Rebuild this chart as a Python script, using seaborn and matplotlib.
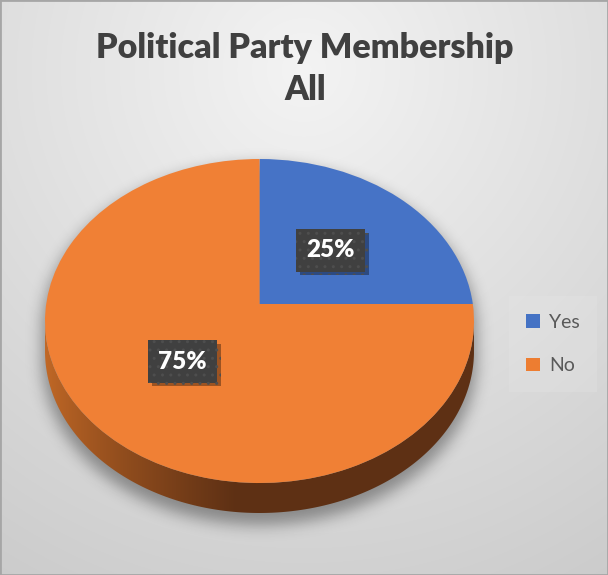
import numpy as np
import matplotlib
matplotlib.use("Agg")
import matplotlib.pyplot as plt
import matplotlib.transforms as mtransforms
import matplotlib.patheffects as pe
from matplotlib.path import Path
from matplotlib.patches import PathPatch, Rectangle
import seaborn as sns

# ---- data -------------------------------------------------------------
categories = ["Yes", "No"]
shares = [25, 75]
slice_colors = ["#4472C4", "#ED7D31"]
title_lines = ["Political Party Membership", "All"]

# ---- style ------------------------------------------------------------
sns.set_theme(style="white")
plt.rcParams["font.family"] = ["Lato", "DejaVu Sans"]

W, H, DPI = 608, 575, 100
fig = plt.figure(figsize=(W / DPI, H / DPI), dpi=DPI)
ax = fig.add_axes([0, 0, 1, 1])

# geometry of the tilted disc, in pixel units of the canvas
CX, CY, RX, RY = 259.5, 321.0, 214.5, 162.0
TILT = 0.105
DEPTH = 30.0


class TiltedDisc(mtransforms.Transform):
    """Perspective view of the unit disc: a projective map that keeps the
    rim on an ellipse while the centre slides towards the far edge."""
    input_dims = output_dims = 2
    is_separable = False

    def __init__(self, cx, cy, rx, ry, v):
        super().__init__()
        self.cx, self.cy, self.rx, self.ry, self.v = cx, cy, rx, ry, v
        self.s = np.sqrt(1 - v * v)

    def transform_non_affine(self, values):
        values = np.asarray(values, dtype=float)
        x, y = values[..., 0], values[..., 1]
        d = 1.0 + self.v * y
        xp = x * self.s / d
        yp = (y + self.v) / d
        return np.stack([self.cx + self.rx * xp, self.cy - self.ry * yp], axis=-1)


tilt = TiltedDisc(CX, CY, RX, RY, TILT)

# ---- background: soft radial grey ---------------------------------------
yy, xx = np.mgrid[0:H, 0:W] + 0.5
rad = np.hypot(xx - 304, (yy - 70) * 1.0) / 600.0
shade = 0.955 - 0.16 * np.clip(rad, 0, 1.1)
bg = np.dstack([shade, shade, shade])
ax.imshow(bg, extent=[0, W, H, 0], zorder=0, interpolation="bilinear")


def blur(a, sigma):
    r = int(3 * sigma)
    k = np.exp(-0.5 * (np.arange(-r, r + 1) / sigma) ** 2)
    k /= k.sum()
    a = np.apply_along_axis(lambda m: np.convolve(m, k, mode="same"), 0, a)
    a = np.apply_along_axis(lambda m: np.convolve(m, k, mode="same"), 1, a)
    return a


# ---- drop shadow under the solid disc -------------------------------------
dy = yy - CY - 9
t = np.clip(dy, 0, DEPTH)
solid = (((xx - CX) / (RX + 3)) ** 2 + ((dy - t) / (RY + 3)) ** 2) <= 1.0
soft = blur(solid.astype(float), 7.5)
shadow = np.zeros((H, W, 4))
shadow[..., 3] = 0.36 * soft
ax.imshow(shadow, extent=[0, W, H, 0], zorder=1, interpolation="bilinear")

# ---- side wall of the disc -------------------------------------------------
phi = np.linspace(0, np.pi, 200)
rim_x = CX + RX * np.cos(phi)
rim_y = CY + RY * np.sin(phi)
wall = np.concatenate([
    np.column_stack([rim_x, rim_y]),
    np.column_stack([rim_x[::-1], rim_y[::-1] + DEPTH]),
])
wall_patch = PathPatch(Path(wall, closed=True), facecolor="none", edgecolor="none")
ax.add_patch(wall_patch)

gx = np.linspace(CX - RX, CX + RX, 400)
frac = np.clip((gx - (CX - RX)) / 190.0, 0, 1) ** 0.8
light = np.array([0.76, 0.41, 0.15])
dark = np.array([0.37, 0.19, 0.08])
ramp = light[None, :] * (1 - frac[:, None]) + dark[None, :] * frac[:, None]
ramp_img = np.repeat(ramp[None, :, :], 2, axis=0)
side = ax.imshow(ramp_img, extent=[CX - RX, CX + RX, CY + RY + DEPTH + 2, CY - 2],
                 zorder=2, interpolation="bilinear")
side.set_clip_path(wall_patch)

# ---- top face: the pie itself --------------------------------------------------
wedges, texts, autotexts = ax.pie(
    shares,
    colors=["#4673C6", "#F08035"],
    startangle=90,
    counterclock=False,
    autopct="%1.0f%%",
    pctdistance=0.49,
    wedgeprops=dict(linewidth=0),
    textprops=dict(color="white", fontsize=17.5, fontweight="heavy"),
)
for w in wedges:
    w.set_transform(tilt + ax.transData)
    w.set_zorder(3)
for lbl in autotexts:
    lbl.set_position(tuple(tilt.transform(np.array(lbl.get_position()))))
    lbl.set_zorder(6)
    lbl.set_bbox(dict(boxstyle="square,pad=0.42", facecolor="#404040",
                      edgecolor="#4e4e4e", linewidth=0, hatch=".."))
    lbl.get_bbox_patch().set_path_effects(
        [pe.withSimplePatchShadow(offset=(2.5, -2.5), shadow_rgbFace="black", alpha=0.35)]
    )

ax.set_xlim(0, W)
ax.set_ylim(H, 0)
ax.set_aspect("auto")
ax.axis("off")

# ---- title --------------------------------------------------------------------------
ax.text(W / 2 + 1, 69, "\n".join(title_lines), ha="center", va="center",
        fontsize=24.5, fontweight="heavy", color="#404040", linespacing=1.42, zorder=6)

# ---- legend ---------------------------------------------------------------------------
leg = ax.legend(
    [Rectangle((0, 0), 1, 1, facecolor=c, edgecolor="none") for c in slice_colors],
    categories,
    loc="center",
    bbox_to_anchor=(553 / W, 1 - 344 / H),
    bbox_transform=fig.transFigure,
    frameon=True, fancybox=False,
    facecolor="#e6e6e6", edgecolor="none", framealpha=0.3,
    fontsize=14, labelcolor="#595959",
    handlelength=0.7, handleheight=0.7, handletextpad=0.45,
    labelspacing=1.35, borderpad=0.9,
)
leg.set_zorder(7)

# ---- chart border ----------------------------------------------------------------
fig.add_artist(Rectangle((0, 0), 1, 1, transform=fig.transFigure, fill=False,
                         edgecolor="#a6a6a6", linewidth=2.0))

fig.savefig("out.png", dpi=DPI)
